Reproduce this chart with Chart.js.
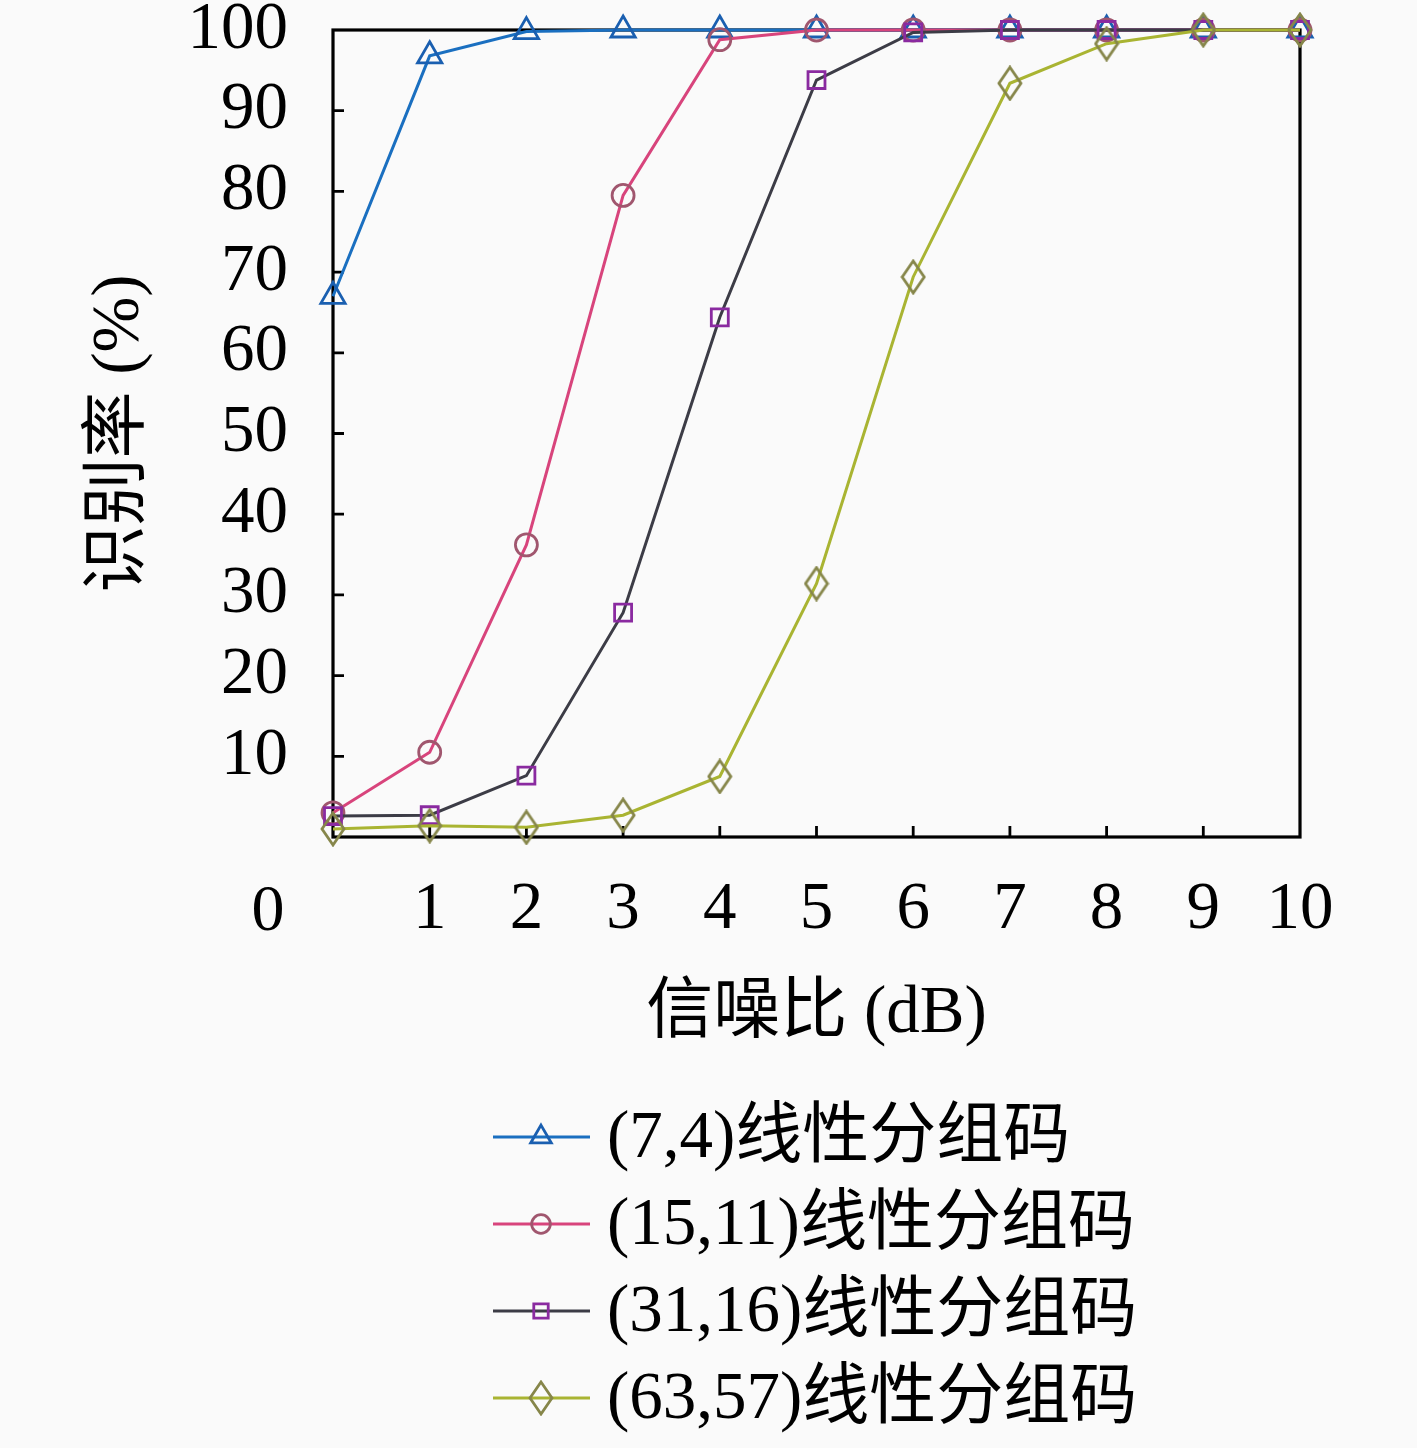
<!DOCTYPE html>
<html>
<head>
<meta charset="utf-8">
<script src="https://cdn.jsdelivr.net/npm/chart.js@4.4.1/dist/chart.umd.min.js"></script>
<style>
html,body{margin:0;padding:0;background:#fafafa;}
canvas{display:block;}
</style>
</head>
<body>
<canvas id="c" width="1417" height="1448" style="width:1417px;height:1448px"></canvas>
<script>
// ---- data ----
const snr = [0, 1, 2, 3, 4, 5, 6, 7, 8, 9, 10];
const seriesLabels = ['(7,4)线性分组码', '(15,11)线性分组码', '(31,16)线性分组码', '(63,57)线性分组码'];
const rate74 = [67.0, 96.8, 99.8, 100, 100, 100, 100, 100, 100, 100, 100];
const rate1511 = [3.0, 10.5, 36.2, 79.5, 98.8, 100, 100, 100, 100, 100, 100];
const rate3116 = [2.6, 2.7, 7.6, 27.8, 64.4, 93.8, 99.7, 100, 100, 100, 100];
const rate6357 = [1.0, 1.4, 1.2, 2.7, 7.5, 31.4, 69.4, 93.4, 98.3, 100, 100];
const yTicks = [0, 10, 20, 30, 40, 50, 60, 70, 80, 90, 100];
const xTitle = '信噪比 (dB)';
const yTitle = '识别率 (%)';

const FONT = "'Liberation Serif', 'Noto Sans CJK SC', serif";

// custom tall diamond marker
function makeDiamond(color) {
  const cv = document.createElement('canvas');
  cv.width = 26; cv.height = 36;
  const g = cv.getContext('2d');
  g.strokeStyle = color; g.lineWidth = 2.8;
  g.beginPath();
  g.moveTo(13, 2); g.lineTo(24, 18); g.lineTo(13, 34); g.lineTo(2, 18); g.closePath();
  g.stroke();
  return cv;
}

const styles = [
  {line: '#1a6fc0', mark: '#1a5fb0', shape: 'triangle', r: 14},
  {line: '#d8447c', mark: '#a0566e', shape: 'circle', r: 11},
  {line: '#3c3c46', mark: '#8a2aa0', shape: 'rect', r: 12},
  {line: '#a9b432', mark: '#86864a', shape: makeDiamond('#86864a'), r: 14}
];
const values = [rate74, rate1511, rate3116, rate6357];

const datasets = values.map((v, i) => ({
  label: seriesLabels[i],
  data: snr.map((x, k) => ({x: x, y: v[k]})),
  borderColor: styles[i].line,
  borderWidth: 3,
  pointStyle: styles[i].shape,
  pointRadius: styles[i].r,
  pointBorderColor: styles[i].mark,
  pointBorderWidth: 2.8,
  pointBackgroundColor: 'rgba(0,0,0,0)',
  tension: 0,
  clip: false,
  order: 3 - i
}));

const framePlugin = {
  id: 'frame',
  beforeDraw(chart) {
    const ctx = chart.ctx;
    ctx.save();
    ctx.fillStyle = '#fafafa';
    ctx.fillRect(0, 0, chart.width, chart.height);
    ctx.restore();
  },
  beforeDatasetsDraw(chart) {
    const {ctx, chartArea: a, scales} = chart;
    ctx.save();
    ctx.strokeStyle = '#000';
    ctx.lineWidth = 3.2;
    ctx.strokeRect(a.left, a.top, a.right - a.left, a.bottom - a.top);
    ctx.lineWidth = 2.8;
    ctx.beginPath();
    scales.y.ticks.forEach(t => {
      if (t.value <= 0 || t.value >= 100) return;
      const py = scales.y.getPixelForValue(t.value);
      ctx.moveTo(a.left, py); ctx.lineTo(a.left + 11, py);
    });
    scales.x.ticks.forEach(t => {
      if (t.value <= 0 || t.value >= 10) return;
      const px = scales.x.getPixelForValue(t.value);
      ctx.moveTo(px, a.bottom); ctx.lineTo(px, a.bottom - 11);
    });
    ctx.stroke();
    ctx.restore();
  },
  afterDraw(chart) {
    const {ctx, chartArea: a, scales} = chart;
    ctx.save();
    // origin "0" label at lower-left
    ctx.fillStyle = '#000';
    ctx.font = '66px ' + FONT;
    ctx.textAlign = 'center';
    ctx.textBaseline = 'middle';
    ctx.fillText(String(snr[0]), scales.x.getPixelForValue(snr[0]) - 65, a.bottom + 76);
    // legend
    const x0 = 493, x1 = 590, xm = 541, tx = 607, row0 = 1137, gap = 87;
    chart.data.datasets.forEach((ds, i) => {
      const y = row0 + i * gap;
      ctx.strokeStyle = ds.borderColor;
      ctx.lineWidth = 3;
      ctx.beginPath(); ctx.moveTo(x0, y); ctx.lineTo(x1, y); ctx.stroke();
      ctx.strokeStyle = ds.pointBorderColor;
      ctx.fillStyle = 'rgba(0,0,0,0)';
      ctx.lineWidth = 2.8;
      Chart.helpers.drawPoint(ctx, {pointStyle: ds.pointStyle, radius: ds.pointRadius * 0.85, rotation: 0, borderWidth: 2.8}, xm, y);
      ctx.fillStyle = '#000';
      ctx.font = '67px ' + FONT;
      ctx.textAlign = 'left';
      ctx.textBaseline = 'middle';
      ctx.fillText(ds.label, tx, y + 2);
    });
    ctx.restore();
  }
};

new Chart(document.getElementById('c'), {
  type: 'line',
  data: {datasets},
  options: {
    responsive: false,
    animation: false,
    devicePixelRatio: 1,
    layout: {padding: {left: 0, top: 30, right: 117, bottom: 381}},
    plugins: {legend: {display: false}, tooltip: {enabled: false}},
    scales: {
      x: {
        type: 'linear', min: 0, max: 10,
        afterFit(s) { s.height = 230; s.paddingLeft = 0; s.paddingRight = 0; },
        grid: {display: false, drawTicks: false},
        border: {display: false},
        ticks: {
          stepSize: 1, padding: 40, color: '#000',
          font: {family: FONT, size: 67, lineHeight: 1},
          callback: v => (v === 0 ? '' : String(v)),
          maxRotation: 0, autoSkip: false
        },
        title: {display: true, text: xTitle, color: '#000', font: {family: FONT, size: 67, lineHeight: 1.2}, padding: {top: 0, bottom: 12}}
      },
      y: {
        min: 0, max: 100,
        afterFit(s) { s.width = 333; s.paddingTop = 0; s.paddingBottom = 0; },
        afterBuildTicks(s) { s.ticks = yTicks.map(v => ({value: v})); },
        grid: {display: false, drawTicks: false},
        border: {display: false},
        ticks: {
          padding: 45, color: '#000',
          font: {family: FONT, size: 67, lineHeight: 0.8},
          callback: v => (v === 0 ? '' : String(v))
        },
        title: {display: true, text: yTitle, color: '#000', font: {family: FONT, size: 67, lineHeight: 1.2}, padding: {top: 80, bottom: 0}}
      }
    }
  },
  plugins: [framePlugin]
});
</script>
</body>
</html>
